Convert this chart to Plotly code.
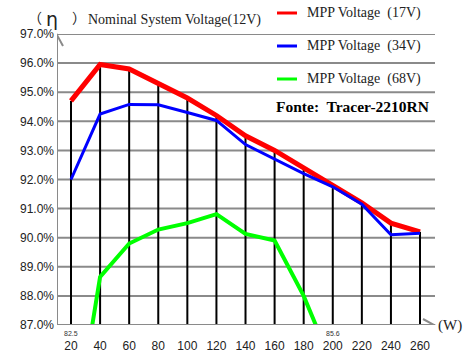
import plotly.graph_objects as go

watts = [20, 40, 60, 80, 100, 120, 140, 160, 180, 200, 220, 240, 260]
eff_17v = [94.7, 95.95, 95.8, 95.3, 94.8, 94.2, 93.5, 93.0, 92.4, 91.85, 91.2, 90.5, 90.2]
eff_34v = [92.0, 94.25, 94.58, 94.57, 94.3, 94.03, 93.2, 92.7, 92.2, 91.75, 91.15, 90.1, 90.15]
watts_68v = [20, 40, 60, 80, 100, 120, 140, 160, 180, 200]
eff_68v = [82.5, 88.65, 89.8, 90.28, 90.5, 90.81, 90.13, 89.9, 88.0, 85.6]
y_ticks = [87, 88, 89, 90, 91, 92, 93, 94, 95, 96, 97]
y_labels = [f"{v:.1f}%" for v in y_ticks]
x_ticks = watts
legend_names = ["MPP Voltage  (17V)", "MPP Voltage  (34V)", "MPP Voltage  (68V)"]
colors = ["#ff0000", "#0000ff", "#00ff00"]

Y_MIN, Y_MAX = 87, 97
X_MIN, X_MAX = 10.37, 270.3
PAGE_W, PAGE_H = 468, 355
L, T, PW, PH = 57, 34, 378, 291

def px(xp):
    return (xp - L) / PW

def py(yp):
    return 1 - (yp - T) / PH

fig = go.Figure()

dx, dy = [], []
for w, v in zip(watts, eff_17v):
    dx += [w, w, None]
    dy += [Y_MIN, v, None]
fig.add_trace(go.Scatter(x=dx, y=dy, mode="lines", line=dict(color="black", width=2),
                         hoverinfo="skip", showlegend=False))

fig.add_trace(go.Scatter(x=watts_68v, y=eff_68v, mode="lines", line=dict(color=colors[2], width=4),
                         name=legend_names[2], showlegend=False))
fig.add_trace(go.Scatter(x=watts, y=eff_17v, mode="lines", line=dict(color=colors[0], width=5),
                         name=legend_names[0], showlegend=False))
fig.add_trace(go.Scatter(x=watts, y=eff_34v, mode="lines", line=dict(color=colors[1], width=3),
                         name=legend_names[1], showlegend=False))

grid = "#8a8a8a"
shapes = []
for v in y_ticks[1:]:
    shapes.append(dict(type="line", xref="paper", yref="y", x0=0, x1=1, y0=v, y1=v,
                       line=dict(color=grid, width=2), layer="below"))
shapes.append(dict(type="line", xref="paper", yref="y", x0=0, x1=1, y0=Y_MIN, y1=Y_MIN,
                   line=dict(color=grid, width=2)))
shapes.append(dict(type="path", xref="paper", yref="y", xsizemode="pixel", ysizemode="pixel",
                   xanchor=1, yanchor=Y_MIN, path="M -12,6 L -1,0 L -12,-6",
                   line=dict(color=grid, width=2)))
shapes.append(dict(type="line", xref="x", yref="paper", x0=X_MIN, x1=X_MIN, y0=0, y1=1,
                   line=dict(color=grid, width=2)))
shapes.append(dict(type="path", xref="x", yref="paper", xsizemode="pixel", ysizemode="pixel",
                   xanchor=X_MIN, yanchor=1, path="M -6,-12 L 0,-1 L 6,-12",
                   line=dict(color=grid, width=2)))

annotations = []
serif = "Liberation Serif"
leg_y = [13, 46, 79]
for name, col, ly in zip(legend_names, colors, leg_y):
    shapes.append(dict(type="line", xref="paper", yref="paper",
                       x0=px(277), x1=px(297), y0=py(ly), y1=py(ly),
                       line=dict(color=col, width=3)))
    annotations.append(dict(xref="paper", yref="paper", x=px(305), y=py(ly),
                            text=name, showarrow=False, xanchor="left", yanchor="middle",
                            font=dict(family=serif, size=14, color="#222")))
annotations.append(dict(xref="paper", yref="paper", x=px(431), y=py(106),
                        text="<b>Fonte:  Tracer-2210RN</b>", showarrow=False, xanchor="right",
                        yanchor="middle", font=dict(family=serif, size=15.5, color="black")))
annotations.append(dict(xref="paper", yref="paper", x=px(35), y=py(17),
                        text="（", showarrow=False, xanchor="center", yanchor="middle",
                        font=dict(family="Noto Sans CJK SC", size=14, color="#222")))
annotations.append(dict(xref="paper", yref="paper", x=px(52), y=py(19),
                        text="η", showarrow=False, xanchor="center", yanchor="middle",
                        font=dict(family="DejaVu Sans", size=19, color="#222")))
annotations.append(dict(xref="paper", yref="paper", x=px(79), y=py(17),
                        text="）", showarrow=False, xanchor="center", yanchor="middle",
                        font=dict(family="Noto Sans CJK SC", size=14, color="#222")))
annotations.append(dict(xref="paper", yref="paper", x=px(86), y=py(20),
                        text="Nominal System Voltage(12V)", showarrow=False, xanchor="left",
                        yanchor="middle", font=dict(family=serif, size=14, color="#222")))
annotations.append(dict(xref="paper", yref="paper", x=px(464), y=0,
                        text="(W)", showarrow=False, xanchor="right", yanchor="middle",
                        font=dict(family=serif, size=15, color="#222")))
annotations.append(dict(xref="x", yref="paper", x=watts_68v[0], y=py(333),
                        text=f"{eff_68v[0]}", showarrow=False, yanchor="middle",
                        font=dict(family="Liberation Sans", size=7, color="#333")))
annotations.append(dict(xref="x", yref="paper", x=watts_68v[-1], y=py(333),
                        text=f"{eff_68v[-1]}", showarrow=False, yanchor="middle",
                        font=dict(family="Liberation Sans", size=7, color="#333")))

fig.update_layout(
    width=PAGE_W, height=PAGE_H,
    margin=dict(l=L, r=PAGE_W - L - PW, t=T, b=PAGE_H - T - PH),
    paper_bgcolor="white", plot_bgcolor="white",
    shapes=shapes, annotations=annotations,
    showlegend=False,
    xaxis=dict(range=[X_MIN, X_MAX], tickvals=x_ticks, ticktext=[str(v) for v in x_ticks],
               showgrid=False, zeroline=False, showline=False, ticks="", automargin=False,
               ticklabelstandoff=12,
               tickfont=dict(family="Liberation Sans", size=12, color="#222")),
    yaxis=dict(range=[Y_MIN, Y_MAX], tickvals=y_ticks, ticktext=y_labels,
               showgrid=False, zeroline=False, showline=False, ticks="", automargin=False,
               ticklabelstandoff=2,
               tickfont=dict(family="Liberation Sans", size=12, color="#222")),
)

fig.write_html("out.html", config={"displayModeBar": False},
               post_script="document.body.style.margin='0px';document.body.style.overflow='hidden';")
